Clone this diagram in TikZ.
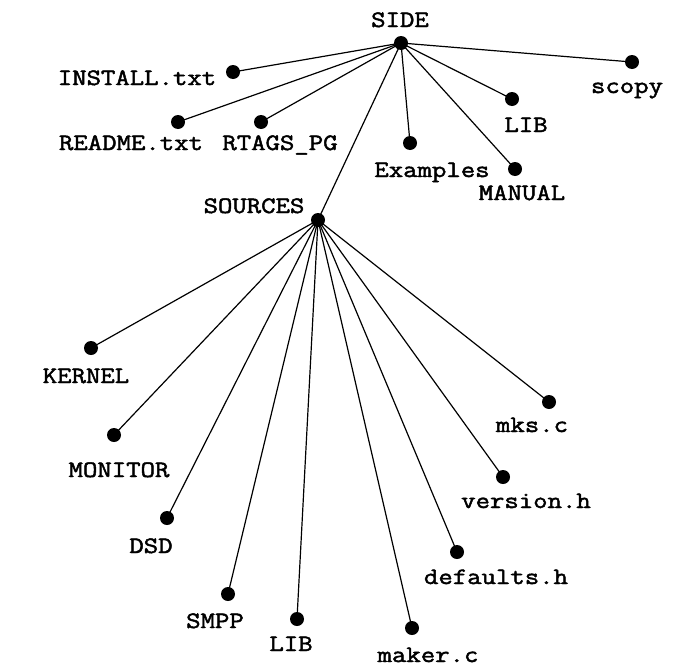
\documentclass[tikz,border=0pt]{standalone}
\usepackage{fontspec}
\newfontfamily\courfont{Latin Modern Mono}[FakeStretch=1.19,FakeBold=2]

\begin{document}
\begin{tikzpicture}[x=1pt,y=-1pt,
    dot/.style={circle,fill,inner sep=0pt,minimum size=14pt},
    fname/.style={anchor=base,inner sep=0pt,font=\courfont\fontsize{23.5}{28}\selectfont},
    edge/.style={line width=1.2pt}]
    \useasboundingbox (0,0) rectangle (672,672);
    % top level
    \node[dot] (side) at (401,43) {};
    \node[dot] (install) at (233,72) {};
    \node[dot] (readme) at (178,122) {};
    \node[dot] (rtags) at (261,122) {};
    \node[dot] (examples) at (410,143) {};
    \node[dot] (lib) at (512,99) {};
    \node[dot] (manual) at (515,169) {};
    \node[dot] (scopy) at (632,62) {};
    \node[dot] (sources) at (318,220) {};
    % SOURCES
    \node[dot] (kernel) at (91,348) {};
    \node[dot] (monitor) at (114,435) {};
    \node[dot] (dsd) at (167,518) {};
    \node[dot] (smpp) at (228,594) {};
    \node[dot] (srclib) at (297,619) {};
    \node[dot] (maker) at (412,628) {};
    \node[dot] (defaults) at (457,552) {};
    \node[dot] (version) at (503,477) {};
    \node[dot] (mks) at (549,402) {};
    % names
    \node[fname] (sidetxt) at (400,27) {SIDE};
    \node[fname] (installtxt) at (137,85) {INSTALL.txt};
    \node[fname] (readmetxt) at (131,150) {README.txt};
    \node[fname] (rtagstxt) at (280,150) {RTAGS\_PG};
    \node[fname] (examplestxt) at (432,177) {Examples};
    \node[fname] (libtxt) at (526,132) {LIB};
    \node[fname] (manualtxt) at (522,200) {MANUAL};
    \node[fname] (scopytxt) at (627,93) {scopy};
    \node[fname] (sourcestxt) at (254,213) {SOURCES};
    \node[fname] (kerneltxt) at (86,383) {KERNEL};
    \node[fname] (monitortxt) at (119,477) {MONITOR};
    \node[fname] (dsdtxt) at (151,553) {DSD};
    \node[fname] (smpptxt) at (215,628) {SMPP};
    \node[fname] (srclibtxt) at (291,651) {LIB};
    \node[fname] (makertxt) at (428,662) {maker.c};
    \node[fname] (defaultstxt) at (496,584) {defaults.h};
    \node[fname] (versiontxt) at (526,508) {version.h};
    \node[fname] (mkstxt) at (532,432) {mks.c};
    % edges
    \foreach \n in {install,readme,rtags,examples,lib,manual,scopy,sources}
      \draw[edge] (side.center) -- (\n.center);
    \foreach \n in {kernel,monitor,dsd,smpp,srclib,maker,defaults,version,mks}
      \draw[edge] (sources.center) -- (\n.center);
  \end{tikzpicture}
\end{document}
